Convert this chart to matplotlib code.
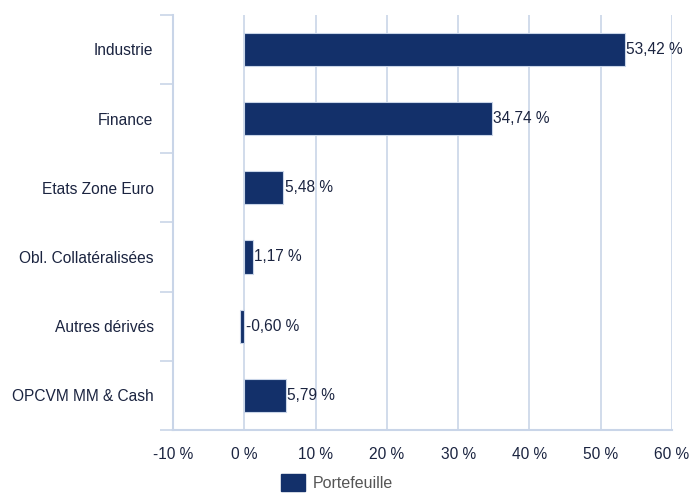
import matplotlib.pyplot as plt
from matplotlib.patches import Patch
import numpy as np

categories = ['Industrie', 'Finance', 'Etats Zone Euro', 'Obl. Collatéralisées',
              'Autres dérivés', 'OPCVM MM & Cash']
values = [53.42, 34.74, 5.48, 1.17, -0.60, 5.79]
xticks = [-10, 0, 10, 20, 30, 40, 50, 60]
series_name = 'Portefeuille'

bar_color = '#13306a'
grid_color = '#c9d5e8'
text_color = '#1b2440'

plt.rcParams['font.family'] = ['Liberation Sans', 'DejaVu Sans']

fig = plt.figure(figsize=(6.92, 4.93), dpi=100)
ax = fig.add_axes([0.25, 0.128, 0.721, 0.842])

y = np.arange(len(categories))
ax.barh(y, values, height=0.48, color=bar_color, edgecolor='#c9d5e8',
        linewidth=0.8, zorder=3)

for yi, v in zip(y, values):
    label = f'{v:.2f} %'.replace('.', ',')
    ax.text(max(v, 0) + 0.2, yi, label, va='center', ha='left',
            fontsize=11.2, color=text_color, zorder=4)

ax.set_ylim(len(categories) - 0.5, -0.5)
ax.set_xlim(-10, 60)
ax.set_xticks(xticks)
ax.set_xticklabels([f'{t} %' for t in xticks], fontsize=11.2, color=text_color)
ax.set_yticks(np.arange(len(categories) + 1) - 0.5, minor=False)
ax.set_yticklabels([])
ax.set_yticks(y, minor=True)
ax.set_yticklabels(categories, minor=True, fontsize=11.2, color=text_color)

ax.tick_params(axis='x', length=0, pad=12)
ax.tick_params(axis='y', which='major', length=9.5, color=grid_color, width=1.2)
ax.tick_params(axis='y', which='minor', length=0, pad=14)

ax.grid(axis='x', color=grid_color, linewidth=1.2, zorder=0)
for s in ['top', 'right']:
    ax.spines[s].set_visible(False)
for s in ['left', 'bottom']:
    ax.spines[s].set_color(grid_color)
    ax.spines[s].set_linewidth(1.5)

handle = Patch(facecolor=bar_color, edgecolor=bar_color)
fig.legend([handle], [series_name], loc='lower left', bbox_to_anchor=(0.385, -0.025),
           frameon=False, fontsize=11.5, handlelength=1.5, handleheight=1.2,
           handletextpad=0.5, labelcolor='#555555')

fig.savefig('out.png', dpi=100)
